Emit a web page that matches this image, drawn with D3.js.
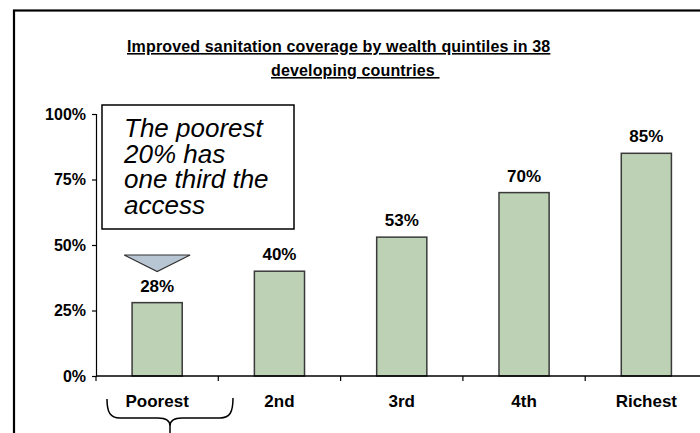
<!DOCTYPE html>
<html>
<head>
<meta charset="utf-8">
<script src="https://cdn.jsdelivr.net/npm/d3@7/dist/d3.min.js"></script>
<style>
  html, body { margin: 0; padding: 0; background: #fff; }
  svg { display: block; font-family: "Liberation Sans", Arial, sans-serif; }
</style>
</head>
<body>
<svg id="chart" width="700" height="433"></svg>
<script>
// Improved sanitation coverage (%) per wealth quintile
const categories = ["Poorest", "2nd", "3rd", "4th", "Richest"];
const coverage = [28, 40, 53, 70, 85];
const yTicks = [0, 25, 50, 75, 100];
const titleLines = ["Improved sanitation coverage by wealth quintiles in 38", "developing countries "];
const noteLines = ["The poorest", "20% has", "one third the", "access"];

const svg = d3.select("#chart");

// outer frame (runs past the right and bottom edges)
svg.append("rect")
  .attr("x", 14).attr("y", 10.5)
  .attr("width", 720).attr("height", 440)
  .attr("fill", "#fff").attr("stroke", "#000").attr("stroke-width", 2.2);

// title, two underlined lines
const titleStart = [127, 271];
svg.append("g").selectAll("text")
  .data(titleLines)
  .join("text")
  .attr("x", (d, i) => titleStart[i])
  .attr("y", (d, i) => 52 + i * 24)
  .attr("font-size", 16)
  .attr("font-weight", "bold")
  .attr("letter-spacing", 0.15)
  .style("white-space", "pre")
  .style("text-decoration", "underline")
  .attr("fill", "#000")
  .text(d => d);

const x = d3.scaleBand()
  .domain(categories)
  .range([96, 707.5])
  .paddingInner(0.59)
  .paddingOuter(0.295);

const y = d3.scaleLinear().domain([0, 100]).range([376, 114]);

// y axis
const yAxis = svg.append("g")
  .attr("transform", "translate(96,0)")
  .call(d3.axisLeft(y).tickValues(yTicks).tickSize(4).tickPadding(6).tickFormat(d => d + "%"));
yAxis.select(".domain").attr("stroke", "#000").attr("stroke-width", 1.2);
yAxis.selectAll(".tick line").attr("stroke", "#000").attr("stroke-width", 1.2);
yAxis.selectAll(".tick text")
  .attr("font-family", "Liberation Sans, Arial, sans-serif")
  .attr("font-size", 16).attr("font-weight", "bold").attr("fill", "#000");

// bars
svg.append("g").selectAll("rect")
  .data(categories.map((c, i) => ({ c, v: coverage[i] })))
  .join("rect")
  .attr("x", d => x(d.c))
  .attr("y", d => y(d.v))
  .attr("width", x.bandwidth())
  .attr("height", d => y(0) - y(d.v))
  .attr("fill", "#bdd1b5")
  .attr("stroke", "#3a3a3a")
  .attr("stroke-width", 1.5);

// value labels
svg.append("g").selectAll("text")
  .data(categories.map((c, i) => ({ c, v: coverage[i] })))
  .join("text")
  .attr("x", d => x(d.c) + x.bandwidth() / 2)
  .attr("y", d => y(d.v) - 11)
  .attr("text-anchor", "middle")
  .attr("font-size", 17).attr("font-weight", "bold")
  .text(d => d.v + "%");

// x axis with ticks between categories
const xBounds = d3.range(categories.length + 1).map(i => 96 + i * x.step());
const xAxis = svg.append("g");
xAxis.append("line")
  .attr("x1", 96).attr("x2", 710).attr("y1", y(0)).attr("y2", y(0))
  .attr("stroke", "#000").attr("stroke-width", 1.5);
xAxis.selectAll("line.tk")
  .data(xBounds)
  .join("line").attr("class", "tk")
  .attr("x1", d => d).attr("x2", d => d)
  .attr("y1", y(0)).attr("y2", y(0) + 5)
  .attr("stroke", "#000").attr("stroke-width", 1.2);
xAxis.selectAll("text")
  .data(categories)
  .join("text")
  .attr("x", d => x(d) + x.bandwidth() / 2)
  .attr("y", 407)
  .attr("text-anchor", "middle")
  .attr("font-size", 17).attr("font-weight", "bold")
  .text(d => d);

// callout box with a multi-line italic note
svg.append("rect")
  .attr("x", 102).attr("y", 105)
  .attr("width", 192).attr("height", 124)
  .attr("fill", "#fff").attr("stroke", "#000").attr("stroke-width", 1.5);
svg.append("text")
  .attr("x", 124).attr("y", 137)
  .attr("font-size", 26).attr("font-style", "italic")
  .attr("fill", "#000")
  .selectAll("tspan")
  .data(noteLines)
  .join("tspan")
  .attr("x", 124)
  .attr("dy", (d, i) => i === 0 ? 0 : 25.7)
  .text(d => d);

// pointer triangle above the poorest bar
const cx0 = x(categories[0]) + x.bandwidth() / 2;
svg.append("path")
  .attr("d", `M${cx0 - 33},255 L${cx0 + 33},255 L${cx0},271.5 Z`)
  .attr("fill", "#b8c5d3").attr("stroke", "#333").attr("stroke-width", 1.2);

// brace under the poorest label
svg.append("path")
  .attr("d", "M107,399 C107,412 110,418 120,418 L158,418 C165,418 170,420 170,426 L170,440 " +
             "M233,398 C233,412 230,418 220,418 L182,418 C175,418 170,420 170,426")
  .attr("fill", "none").attr("stroke", "#000").attr("stroke-width", 1.5);
</script>
</body>
</html>
